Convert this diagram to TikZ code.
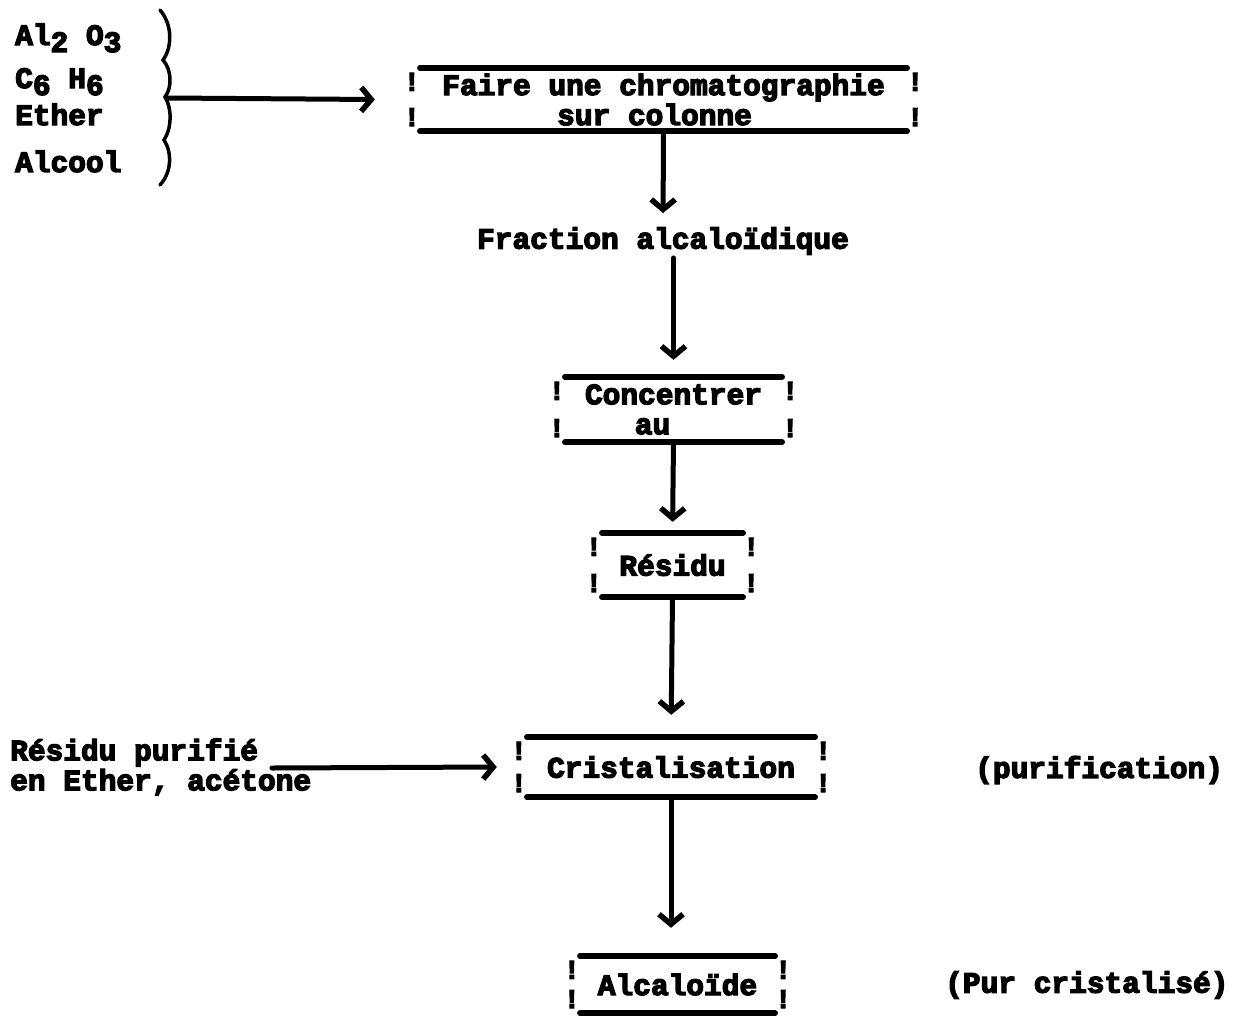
\documentclass[tikz,border=0pt]{standalone}
\usepackage{fontspec}
\setmainfont{Liberation Mono}[BoldFeatures={FakeBold=4.5}]
\usetikzlibrary{arrows.meta}
% lowered chemical index, typewriter style
\newcommand\lo[1]{\raisebox{-7pt}{#1}}
\begin{document}
\begin{tikzpicture}[x=1pt,y=-1pt,
  every node/.style={font=\fontsize{29.5}{30}\selectfont\bfseries, inner sep=0pt},
  stage/.style={align=center},
  boxline/.style={line width=5.5pt, line cap=round},
  arr/.style={line width=5pt, line cap=round,
    -{Straight Barb[length=10pt,width=24pt,line width=5.5pt]}},
  bang/.style={font=\fontsize{27}{27}\selectfont\bfseries}
]
\useasboundingbox (0,0) rectangle (1248,1018);

% reagents and their brace
\node[anchor=base west] (al)  at (15,45)  {Al\lo{2} O\lo{3}};
\node[anchor=base west] (c6)  at (15,88)  {C\lo{6} H\lo{6}};
\node[anchor=base west] (et)  at (15,125) {Ether};
\node[anchor=base west] (alc) at (15,172) {Alcool};
\draw[line width=3.5pt, line cap=round]
  (160,10) .. controls (173,25) and (172,48) .. (163,60)
  .. controls (172,70) and (172,88) .. (165,97)
  .. controls (172,108) and (172,128) .. (164,140)
  .. controls (172,152) and (172,172) .. (160,185);
\coordinate (brc) at (168,98);

% process stages
\node[stage, minimum width=487pt, minimum height=63pt] (b1) at (663.5,99.5)
  {Faire une chromatographie\\sur colonne\hspace*{18pt}};
\node (frac) at (663,241) {Fraction alcaloïdique};
\node[stage, minimum width=217pt, minimum height=65pt] (b2) at (673.5,409.5)
  {Concentrer\\au\hspace*{42pt}};
\node[stage, minimum width=141pt, minimum height=64pt] (b3) at (672.5,565) {Résidu};
\node[stage, minimum width=288pt, minimum height=60pt] (b4) at (671,767) {Cristalisation};
\node[stage, minimum width=195pt, minimum height=57pt] (b5) at (677.5,984.5) {Alcaloïde};

% bars and exclamation marks framing each stage
\foreach \b in {b1,b2,b3,b4,b5} {
  \draw[boxline] (\b.north west) -- (\b.north east);
  \draw[boxline] (\b.south west) -- (\b.south east);
  \node[bang] (\b-lt) at ([xshift=-8pt,yshift=-14pt]\b.north west) {!};
  \node[bang] (\b-lb) at ([xshift=-8pt,yshift=14pt]\b.south west) {!};
  \node[bang] (\b-rt) at ([xshift=8pt,yshift=-14pt]\b.north east) {!};
  \node[bang] (\b-rb) at ([xshift=8pt,yshift=14pt]\b.south east) {!};
}

% side notes
\node[anchor=west, align=left] (rp) at (10,767) {Résidu purifié\\en Ether, acétone};
\coordinate (rpend) at (272,768);
\node[anchor=west] (pu) at (975,770) {(purification)};
\node[anchor=west] (pc) at (945,985) {(Pur cristalisé)};

% connectors
\draw[arr] (brc) -- ([xshift=-45pt]b1.west);
\draw[arr, shorten >=14pt] (b1.south) -- (frac.north);
\draw[arr, shorten <=3pt, shorten >=17pt] (frac.south -| b2.north) -- (b2.north);
\draw[arr, shorten >=11pt] (b2.south) -- (b3.north);
\draw[arr, shorten >=22pt] (b3.south) -- (b4.north);
\draw[arr] (rpend) -- ([xshift=-30pt]b4.west);
\draw[arr, shorten >=28pt] (b4.south) -- (b4.south |- b5.north);
\end{tikzpicture}
\end{document}
